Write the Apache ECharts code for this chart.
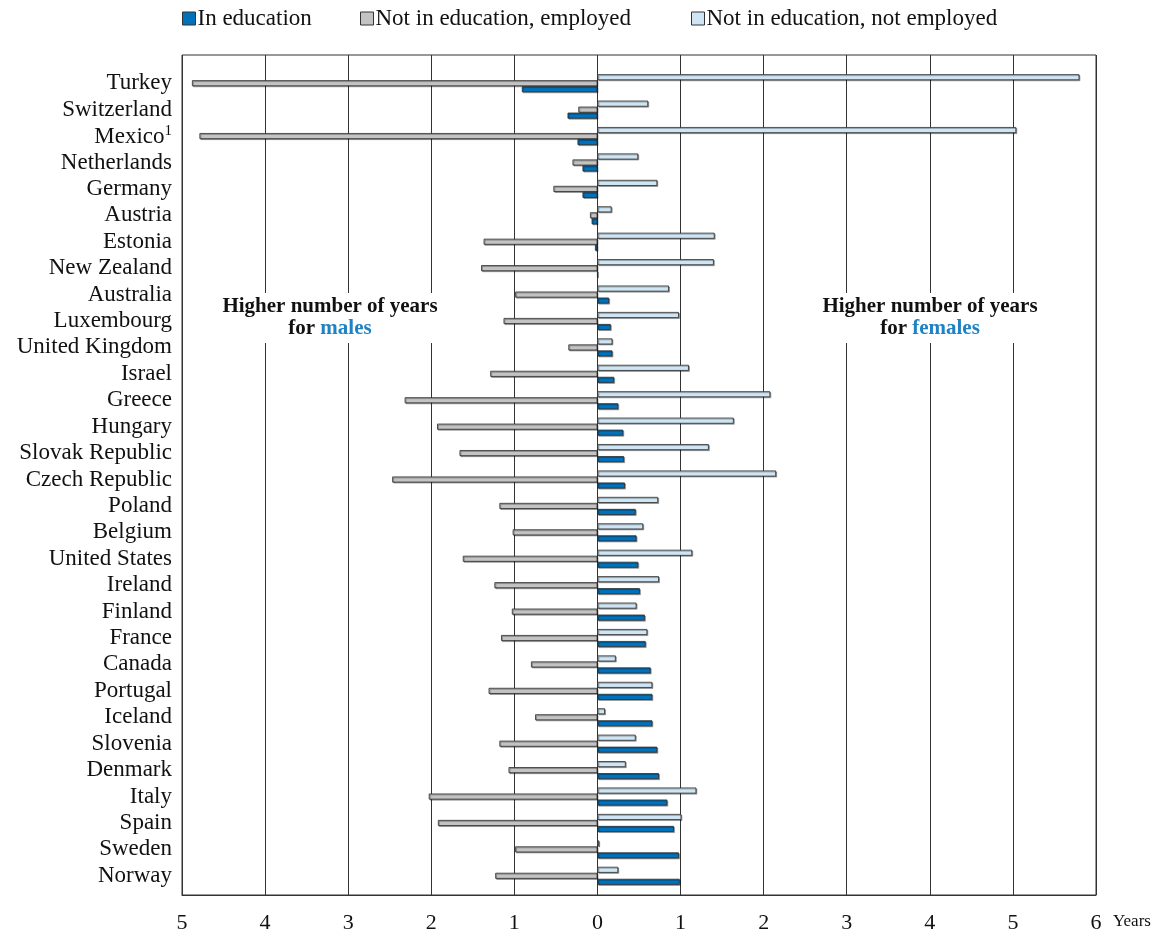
<!DOCTYPE html>
<html>
<head>
<meta charset="utf-8">
<script src="https://cdn.jsdelivr.net/npm/echarts@6/dist/echarts.min.js"></script>
<style>html,body{margin:0;padding:0;background:#fff;}#c{width:1165px;height:935px;}</style>
</head>
<body>
<div id="c"></div>
<script>
const categories = ['Turkey','Switzerland','Mexico¹','Netherlands','Germany','Austria','Estonia','New Zealand','Australia','Luxembourg','United Kingdom','Israel','Greece','Hungary','Slovak Republic','Czech Republic','Poland','Belgium','United States','Ireland','Finland','France','Canada','Portugal','Iceland','Slovenia','Denmark','Italy','Spain','Sweden','Norway'];
const inEducation = [-0.91,-0.36,-0.24,-0.18,-0.18,-0.07,-0.03,0,0.14,0.16,0.18,0.20,0.25,0.31,0.32,0.33,0.46,0.47,0.49,0.51,0.57,0.58,0.64,0.66,0.66,0.72,0.74,0.84,0.92,0.98,0.99];
const employed = [-4.88,-0.23,-4.79,-0.30,-0.53,-0.09,-1.37,-1.40,-0.99,-1.13,-0.35,-1.29,-2.32,-1.93,-1.66,-2.47,-1.18,-1.02,-1.62,-1.24,-1.03,-1.16,-0.80,-1.31,-0.75,-1.18,-1.07,-2.03,-1.92,-0.99,-1.23];
const notEmployed = [5.80,0.61,5.04,0.49,0.72,0.17,1.41,1.40,0.86,0.98,0.18,1.10,2.08,1.64,1.34,2.15,0.73,0.55,1.14,0.74,0.47,0.60,0.22,0.66,0.09,0.46,0.34,1.19,1.01,0.02,0.25];
const seriesNames = ['In education','Not in education, employed','Not in education, not employed'];
const xTicks = [-5,-4,-3,-2,-1,0,1,2,3,4,5,6];

const FONT = '"Liberation Serif", "DejaVu Serif", serif';
const colors = ['#0071bb','#c3c3c3','#cfe5f3'];
const chart = echarts.init(document.getElementById('c'), null, {renderer:'canvas'});

function barSeries(name, data, color) {
  return {
    name: name, type: 'bar', data: data,
    xAxisIndex: 0, yAxisIndex: 0,
    barWidth: 6, barGap: '0%',
    itemStyle: { color: color, borderColor: '#2a2a2a', borderWidth: 0.8,
      shadowColor: 'rgba(0,0,0,0.35)', shadowOffsetX: 1, shadowOffsetY: 1, shadowBlur: 0 },
    emphasis: { disabled: true },
    z: 5
  };
}

const legendBase = {
  top: 7, padding: 0, itemWidth: 13, itemHeight: 13, icon: 'rect', itemGap: 4,
  textStyle: { fontFamily: FONT, fontSize: 23, color: '#111', padding: [0,0,0,-3] },
  itemStyle: { borderColor: '#333', borderWidth: 1 }
};

const option = {
  animation: false,
  backgroundColor: '#fff',
  legend: [
    Object.assign({}, legendBase, { left: 182, data: [seriesNames[0]] }),
    Object.assign({}, legendBase, { left: 360, data: [seriesNames[1]] }),
    Object.assign({}, legendBase, { left: 691, data: [seriesNames[2]] })
  ],
  grid: [
    { left: 182, right: 69, top: 70, height: 819, containLabel: false },
    { left: 182, right: 69, top: 55, height: 840, show: true, borderColor: '#333', borderWidth: 1, containLabel: false }
  ],
  xAxis: [
    { gridIndex: 0, type: 'value', min: -5, max: 6, interval: 1, show: false },
    { gridIndex: 1, type: 'value', min: -5, max: 6, interval: 1,
      axisLine: { show: true, lineStyle: { color: '#333', width: 1 } },
      axisTick: { show: false },
      splitLine: { show: true, lineStyle: { color: '#333', width: 1 } },
      axisLabel: { margin: 17, fontFamily: FONT, fontSize: 22, color: '#111',
        formatter: function (v) { return String(Math.abs(v)); } },
      name: 'Years', nameLocation: 'end', nameGap: 17,
      nameTextStyle: { fontFamily: FONT, fontSize: 17, color: '#111', verticalAlign: 'top', padding: [18,0,0,0] }
    }
  ],
  yAxis: [
    { gridIndex: 0, type: 'category', data: categories, inverse: true,
      axisLine: { show: false }, axisTick: { show: false }, splitLine: { show: false },
      axisLabel: { interval: 0, margin: 10, fontFamily: FONT, fontSize: 23, color: '#111',
        formatter: function (v) { return v.indexOf('¹') >= 0 ? '{n|' + v.replace('¹', '') + '}{s|1}' : v; },
        rich: { n: { fontFamily: FONT, fontSize: 23, color: '#111', lineHeight: 24, verticalAlign: 'bottom' },
                s: { fontFamily: FONT, fontSize: 15, color: '#111', lineHeight: 24, verticalAlign: 'top' } } } },
    { gridIndex: 1, type: 'value', show: false, min: 0, max: 1 }
  ],
  graphic: [
    { type: 'text', z: 20, x: 330, y: 318,
      style: { text: '{b|Higher number of years}\n{b|for }{m|males}', align: 'center', verticalAlign: 'middle',
        backgroundColor: '#fff', padding: [3, 10],
        rich: { b: { fontFamily: FONT, fontWeight: 'bold', fontSize: 21, fill: '#111', lineHeight: 22 },
                m: { fontFamily: FONT, fontWeight: 'bold', fontSize: 21, fill: '#1f82c4', lineHeight: 22 } } } },
    { type: 'text', z: 20, x: 930, y: 318,
      style: { text: '{b|Higher number of years}\n{b|for }{m|females}', align: 'center', verticalAlign: 'middle',
        backgroundColor: '#fff', padding: [3, 10],
        rich: { b: { fontFamily: FONT, fontWeight: 'bold', fontSize: 21, fill: '#111', lineHeight: 22 },
                m: { fontFamily: FONT, fontWeight: 'bold', fontSize: 21, fill: '#1f82c4', lineHeight: 22 } } } }
  ],
  series: [
    barSeries(seriesNames[2], notEmployed, colors[2]),
    barSeries(seriesNames[1], employed, colors[1]),
    barSeries(seriesNames[0], inEducation, colors[0])
  ]
};
chart.setOption(option);
</script>
</body>
</html>
